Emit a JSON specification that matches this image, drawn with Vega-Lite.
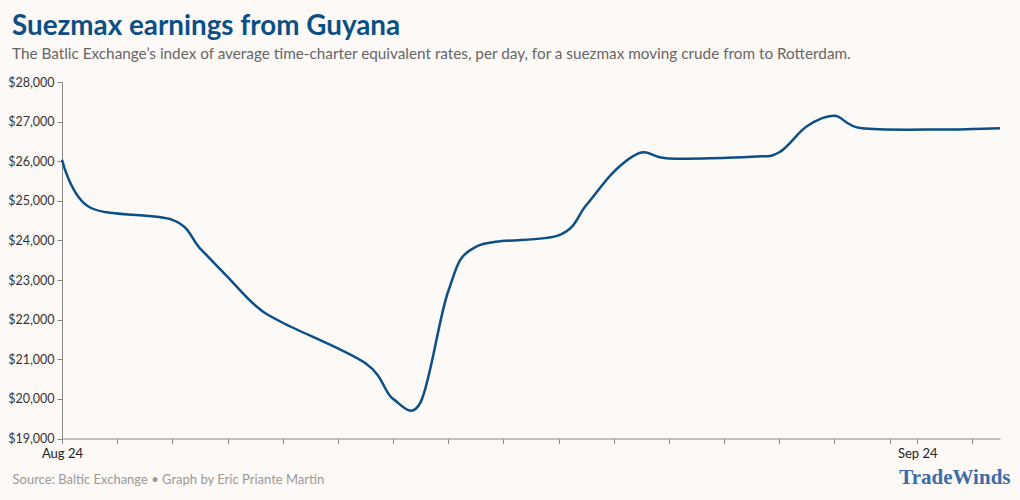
{
  "$schema": "https://vega.github.io/schema/vega-lite/v6.json",
  "width": 938,
  "height": 356.5,
  "autosize": {"type": "none"},
  "padding": {"left": 62, "top": 82, "right": 20, "bottom": 61.5},
  "background": "#fdf9f6",
  "title": {
    "text": "Suezmax earnings from Guyana",
    "subtitle": "The Batlic Exchange’s index of average time-charter equivalent rates, per day, for a suezmax moving crude from to Rotterdam.",
    "anchor": "start",
    "frame": "group",
    "dx": -50,
    "offset": 14,
    "font": "Lato",
    "fontSize": 27.8,
    "fontWeight": "bold",
    "color": "#0b4f86",
    "subtitleFont": "Lato",
    "subtitleFontSize": 15.3,
    "subtitleColor": "#666666",
    "subtitlePadding": 6
  },
  "config": {
    "view": {"stroke": null},
    "axis": {"labelFont": "Lato", "titleFont": "Lato"}
  },
  "data": {
    "values": [
      {"date": "2024-08-01", "value": 26036},
      {"date": "2024-08-02", "value": 24838},
      {"date": "2024-08-05", "value": 24520},
      {"date": "2024-08-06", "value": 23802},
      {"date": "2024-08-07", "value": 23083},
      {"date": "2024-08-08", "value": 22364},
      {"date": "2024-08-09", "value": 21922},
      {"date": "2024-08-12", "value": 20900},
      {"date": "2024-08-13", "value": 20000},
      {"date": "2024-08-14", "value": 19920},
      {"date": "2024-08-15", "value": 22717},
      {"date": "2024-08-16", "value": 23840},
      {"date": "2024-08-19", "value": 24130},
      {"date": "2024-08-20", "value": 24888},
      {"date": "2024-08-21", "value": 25733},
      {"date": "2024-08-22", "value": 26218},
      {"date": "2024-08-23", "value": 26069},
      {"date": "2024-08-26", "value": 26112},
      {"date": "2024-08-27", "value": 26226},
      {"date": "2024-08-28", "value": 26882},
      {"date": "2024-08-29", "value": 27147},
      {"date": "2024-08-30", "value": 26831},
      {"date": "2024-09-02", "value": 26801},
      {"date": "2024-09-03", "value": 26811},
      {"date": "2024-09-04", "value": 26831}
    ]
  },
  "layer": [
    {
      "mark": {"type": "line", "interpolate": "cardinal", "tension": 0, "color": "#0b4f86", "strokeWidth": 2.5},
      "encoding": {
        "x": {
          "field": "date",
          "type": "temporal",
          "scale": {"type": "utc", "domain": ["2024-08-01", "2024-09-04"], "nice": false},
          "axis": {
            "tickCount": {"interval": "day", "step": 2},
            "labelExpr": "utcdate(datum.value) == 1 ? utcFormat(datum.value, '%b %y') : ''",
            "labelFontSize": 13,
            "labelColor": "#222222",
            "labelPadding": 4,
            "tickSize": 5,
            "tickColor": "#888888",
            "domainColor": "#888888",
            "grid": false,
            "labelFlush": false,
            "labelOverlap": false,
            "title": "Source: Baltic Exchange • Graph by Eric Priante Martin",
            "titleAnchor": "start",
            "titleAlign": "left",
            "titleBaseline": "alphabetic",
            "titleX": -50,
            "titleY": 45,
            "titleFontSize": 13,
            "titleFontWeight": "normal",
            "titleColor": "#9a9a9a"
          }
        },
        "y": {
          "field": "value",
          "type": "quantitative",
          "scale": {"domain": [19000, 28000], "nice": false, "zero": false},
          "axis": {
            "values": [19000, 20000, 21000, 22000, 23000, 24000, 25000, 26000, 27000, 28000],
            "format": "$,.0f",
            "labelFontSize": 12.5,
            "labelColor": "#333333",
            "labelPadding": 3,
            "tickSize": 5,
            "tickColor": "#888888",
            "domainColor": "#888888",
            "grid": false,
            "title": null
          }
        }
      }
    },
    {
      "mark": {"type": "point", "opacity": 0},
      "encoding": {
        "x": {"field": "date", "type": "temporal"},
        "y": {
          "field": "value",
          "type": "quantitative",
          "scale": {"domain": [19000, 28000], "nice": false, "zero": false},
          "axis": {
            "orient": "right",
            "labels": false,
            "ticks": false,
            "domain": false,
            "grid": false,
            "title": "TradeWinds",
            "titleAngle": 0,
            "titleAlign": "right",
            "titleBaseline": "alphabetic",
            "titleX": 10,
            "titleY": 401,
            "titleFont": "Liberation Serif",
            "titleFontSize": 21,
            "titleFontWeight": "bold",
            "titleColor": "#3b6ca8"
          }
        }
      }
    }
  ],
  "resolve": {"scale": {"y": "independent"}, "axis": {"y": "independent"}}
}
